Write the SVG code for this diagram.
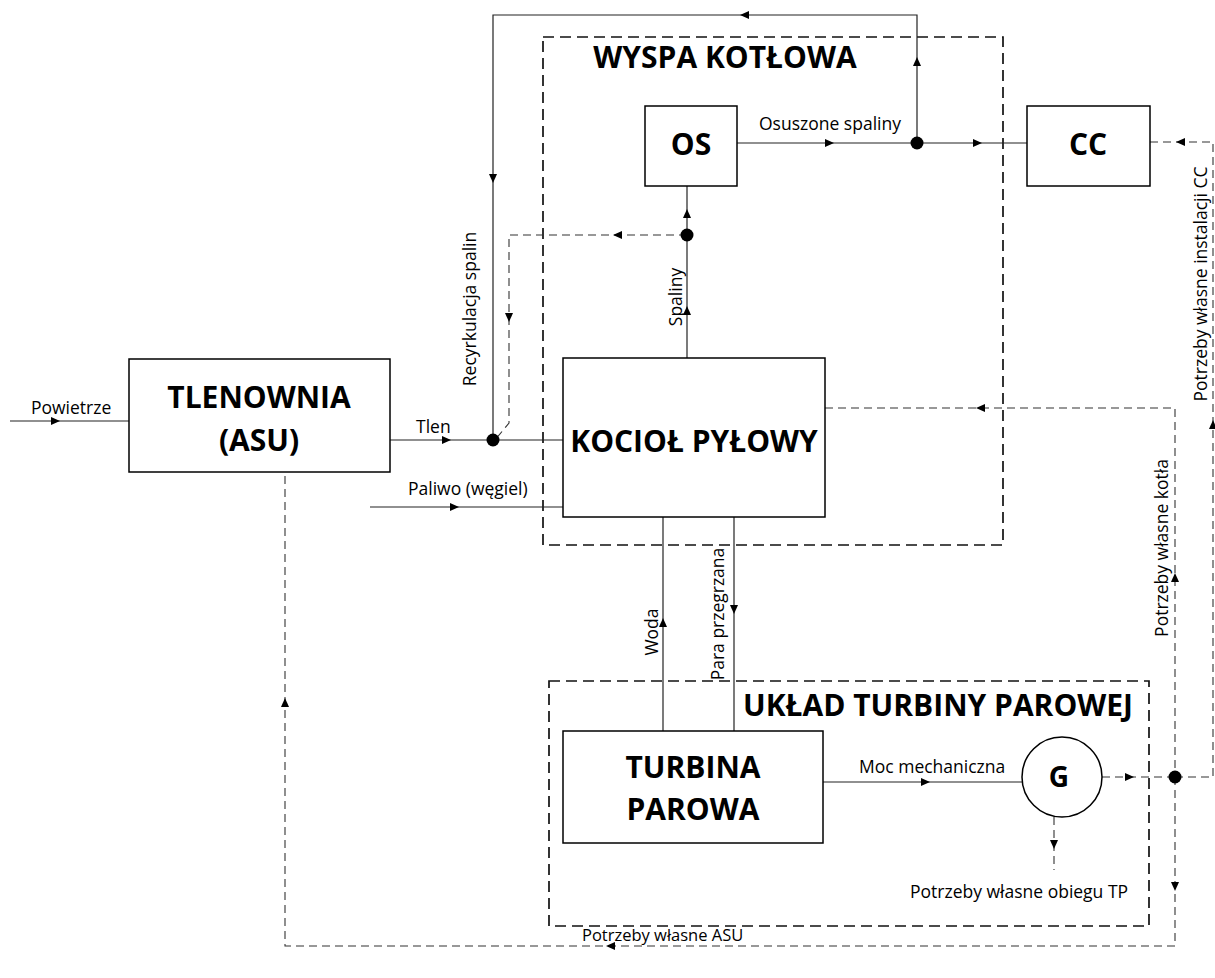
<svg xmlns="http://www.w3.org/2000/svg" width="1215" height="978" viewBox="0 0 1215 978">
<style>
.bx{fill:#fff;stroke:#000;stroke-width:1.5}
.ln{fill:none;stroke:#222;stroke-width:1.2}
.en{fill:none;stroke:#333;stroke-width:1.1;stroke-dasharray:8 5}
.zone{fill:none;stroke:#111;stroke-width:1.7;stroke-dasharray:11 6}
.t{font-family:"Open Sans","Liberation Sans",sans-serif;font-size:17.5px;fill:#000}
.b{font-family:"Open Sans","Liberation Sans",sans-serif;font-weight:bold;font-size:30px;fill:#000;text-anchor:middle}
.dot{fill:#000}
</style>
<defs>
<path id="ah" d="M0,0 L-9,-4 L-9,4 Z" fill="#000"/>
</defs>
<rect width="1215" height="978" fill="#fff"/>

<g id="zones">
<rect id="wyspa" class="zone" x="543" y="37" width="460" height="508"/>
<rect id="uklad" class="zone" x="549" y="681" width="600" height="245"/>
</g>

<g id="connectors">
<path class="ln" d="M10,421 H129"/>
<use href="#ah" transform="translate(60,421)"/>
<path class="ln" d="M390,440 H563"/>
<use href="#ah" transform="translate(451,440)"/>
<path class="ln" d="M370,507 H563"/>
<use href="#ah" transform="translate(459,507)"/>
<path class="ln" d="M493,440 V15 H917 V143"/>
<use href="#ah" transform="translate(740,15) rotate(180)"/>
<use href="#ah" transform="translate(917,57) rotate(-90)"/>
<use href="#ah" transform="translate(493,183) rotate(90)"/>
<path class="en" d="M687,235 H509 V423 L495,440"/>
<use href="#ah" transform="translate(613,235) rotate(180)"/>
<use href="#ah" transform="translate(509,322) rotate(90)"/>
<path class="ln" d="M687,358 V186"/>
<use href="#ah" transform="translate(687,306) rotate(-90)"/>
<use href="#ah" transform="translate(687,209) rotate(-90)"/>
<path class="ln" d="M737,143 H1027"/>
<use href="#ah" transform="translate(834,143)"/>
<use href="#ah" transform="translate(982,143)"/>
<path class="ln" d="M663,517 V731"/>
<use href="#ah" transform="translate(663,618) rotate(-90)"/>
<path class="ln" d="M734,517 V731"/>
<use href="#ah" transform="translate(734,614) rotate(90)"/>
<path class="ln" d="M823,782 H1022"/>
<use href="#ah" transform="translate(930,782)"/>
<path class="en" d="M1102,777 H1175"/>
<use href="#ah" transform="translate(1134,777)"/>
<path class="en" d="M1054,817 V870"/>
<use href="#ah" transform="translate(1054,849) rotate(90)"/>
<path class="en" d="M825,408 H1175 V777"/>
<use href="#ah" transform="translate(976,408) rotate(180)"/>
<use href="#ah" transform="translate(1175,573) rotate(-90)"/>
<path class="en" d="M1175,777 H1213 V142 H1150"/>
<use href="#ah" transform="translate(1176,142) rotate(180)"/>
<use href="#ah" transform="translate(1213,420) rotate(-90)"/>
<path class="en" d="M1175,777 V946 H285 V472"/>
<use href="#ah" transform="translate(1175,891) rotate(90)"/>
<use href="#ah" transform="translate(606,946) rotate(180)"/>
<use href="#ah" transform="translate(285,698) rotate(-90)"/>
<circle class="dot" cx="493" cy="440" r="6.5"/>
<circle class="dot" cx="687" cy="235" r="6.5"/>
<circle class="dot" cx="917" cy="143" r="6.5"/>
<circle class="dot" cx="1175" cy="777" r="6.5"/>
</g>

<g id="labels">
<text class="t" x="31" y="414">Powietrze</text>
<text class="t" x="416" y="433">Tlen</text>
<text class="t" x="408" y="495">Paliwo (węgiel)</text>
<text class="t" x="759" y="130">Osuszone spaliny</text>
<text class="t" x="859" y="773">Moc mechaniczna</text>
<text class="t" x="910" y="898">Potrzeby własne obiegu TP</text>
<text class="t" x="582" y="941" style="font-size:16.5px">Potrzeby własne ASU</text>
<text class="t" text-anchor="middle" transform="translate(476,309) rotate(-90)">Recyrkulacja spalin</text>
<text class="t" text-anchor="middle" transform="translate(682,297) rotate(-90)">Spaliny</text>
<text class="t" text-anchor="middle" transform="translate(658,632) rotate(-90)">Woda</text>
<text class="t" text-anchor="middle" transform="translate(724,614) rotate(-90)">Para przegrzana</text>
<text class="t" text-anchor="middle" transform="translate(1168,548) rotate(-90)">Potrzeby własne kotła</text>
<text class="t" text-anchor="middle" transform="translate(1207,284) rotate(-90)">Potrzeby własne instalacji CC</text>
<text class="b" x="725" y="68">WYSPA KOTŁOWA</text>
<text class="b" x="938" y="716">UKŁAD TURBINY PAROWEJ</text>
</g>

<g id="tlenownia">
<rect class="bx" x="129" y="359" width="261" height="113"/>
<text class="b" x="259" y="408">TLENOWNIA</text>
<text class="b" x="259" y="451">(ASU)</text>
</g>
<g id="kociol">
<rect class="bx" x="563" y="358" width="262" height="159"/>
<text class="b" x="694" y="452">KOCIOŁ PYŁOWY</text>
</g>
<g id="os">
<rect class="bx" x="645" y="106" width="92" height="80"/>
<text class="b" x="691" y="155">OS</text>
</g>
<g id="cc">
<rect class="bx" x="1027" y="106" width="123" height="80"/>
<text class="b" x="1088" y="155">CC</text>
</g>
<g id="turbina">
<rect class="bx" x="563" y="731" width="260" height="112"/>
<text class="b" x="693" y="778">TURBINA</text>
<text class="b" x="693" y="820">PAROWA</text>
</g>
<g id="generator">
<circle class="bx" cx="1062" cy="777" r="40"/>
<text class="b" x="1059" y="787" style="font-size:28px">G</text>
</g>
</svg>
